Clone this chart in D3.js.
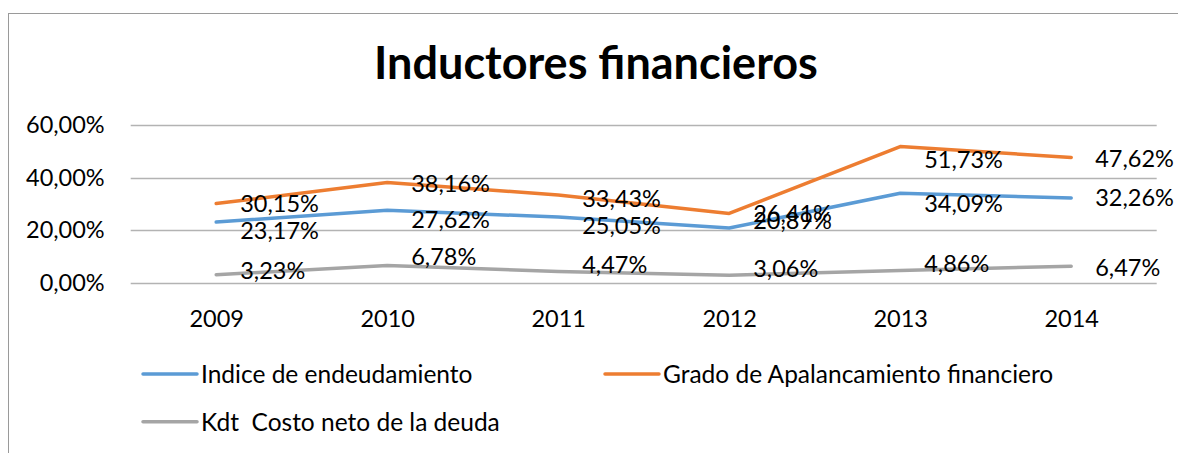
<!DOCTYPE html>
<html>
<head>
<meta charset="utf-8">
<script src="https://cdn.jsdelivr.net/npm/d3@7"></script>
<style>
  html, body { margin: 0; padding: 0; background: #fff; }
  svg { display: block; }
  text { font-family: Lato, "Open Sans", sans-serif; fill: #000; }
</style>
</head>
<body>
<svg id="chart" width="1178" height="453"></svg>
<script>
// ---- data ----
const years = ["2009", "2010", "2011", "2012", "2013", "2014"];
const indiceEndeudamiento = [0.2317, 0.2762, 0.2505, 0.2089, 0.3409, 0.3226];
const gradoApalancamiento = [0.3015, 0.3816, 0.3343, 0.2641, 0.5173, 0.4762];
const kdtCostoDeuda = [0.0323, 0.0678, 0.0447, 0.0306, 0.0486, 0.0647];
const yTicks = [0, 0.2, 0.4, 0.6];
const seriesNames = ["Indice de endeudamiento", "Grado de Apalancamiento financiero", "Kdt  Costo neto de la deuda"];
const seriesColors = ["#5b9bd5", "#ed7d31", "#a5a5a5"];
// vertical nudges of the data labels (px), as placed in the original
const labelNudgeIndice = [8, 9, 8, -8, 10, 0];
const labelNudgeGrado = [0, 1, 4, 0, 13, 1];
const labelNudgeKdt = [-4, -9, -7, -7, -7, 1];

const series = [
  { name: seriesNames[0], values: indiceEndeudamiento, color: seriesColors[0], nudge: labelNudgeIndice },
  { name: seriesNames[1], values: gradoApalancamiento, color: seriesColors[1], nudge: labelNudgeGrado },
  { name: seriesNames[2], values: kdtCostoDeuda, color: seriesColors[2], nudge: labelNudgeKdt }
];

const locale = d3.formatLocale({ decimal: ",", thousands: ".", grouping: [3], currency: ["", "€"] });
const pct = locale.format(".2%");

const svg = d3.select("#chart");

// chart border
svg.append("rect")
  .attr("x", 8.5).attr("y", 13.5)
  .attr("width", 1190).attr("height", 460)
  .attr("fill", "#fff").attr("stroke", "#9a9a9a").attr("stroke-width", 1);

const plotLeft = 130.7, plotRight = 1156.7, plotTop = 124.7, plotBottom = 283.3;
const numFont = "23.5px";

const x = d3.scalePoint().domain(years).range([plotLeft, plotRight]).padding(0.5);
const y = d3.scaleLinear().domain([0, 0.6]).range([plotBottom, plotTop]);

// title
svg.append("text")
  .attr("x", 596).attr("y", 79)
  .attr("text-anchor", "middle")
  .style("font-weight", "bold")
  .style("font-size", "45px")
  .text("Inductores financieros");

// gridlines
svg.append("g").selectAll("line").data(yTicks).join("line")
  .attr("x1", plotLeft).attr("x2", plotRight)
  .attr("y1", d => Math.round(y(d)) + 0.5).attr("y2", d => Math.round(y(d)) + 0.5)
  .attr("stroke", "#b3b3b3").attr("stroke-width", 1.3);

// y axis labels
const yAxis = d3.axisLeft(y).tickValues(yTicks).tickFormat(pct).tickSize(0).tickPadding(26);
const gy = svg.append("g").attr("transform", `translate(${plotLeft},0)`).call(yAxis);
gy.select(".domain").remove();
gy.selectAll("text").style("font-size", numFont).style("font-family", "Lato, sans-serif").attr("fill", "#000");

// x axis labels
const xAxis = d3.axisBottom(x).tickSize(0).tickPadding(27);
const gx = svg.append("g").attr("transform", `translate(0,${plotBottom})`).call(xAxis);
gx.select(".domain").remove();
gx.selectAll("text").style("font-size", numFont).style("font-family", "Lato, sans-serif").attr("fill", "#000");

// lines
const line = d3.line().x((d, i) => x(years[i])).y(d => y(d));
svg.append("g").selectAll("path").data(series).join("path")
  .attr("d", s => line(s.values))
  .attr("fill", "none")
  .attr("stroke", s => s.color)
  .attr("stroke-width", 3.5)
  .attr("stroke-linecap", "round")
  .attr("stroke-linejoin", "round");

// data labels
series.forEach(s => {
  svg.append("g").selectAll("text").data(s.values).join("text")
    .attr("x", (d, i) => x(years[i]) + 24)
    .attr("y", (d, i) => y(d) + s.nudge[i])
    .attr("dy", "0.36em")
    .attr("text-anchor", "start")
    .style("font-size", numFont)
    .text(d => pct(d));
});

// legend
const legendPos = [
  { lx: 143, ly: 374 },
  { lx: 605, ly: 374 },
  { lx: 143, ly: 421.7 }
];
const lg = svg.append("g").selectAll("g").data(series).join("g")
  .attr("transform", (s, i) => `translate(${legendPos[i].lx},${legendPos[i].ly})`);
lg.append("line")
  .attr("x1", 0).attr("x2", 54).attr("y1", 0).attr("y2", 0)
  .attr("stroke", s => s.color).attr("stroke-width", 3.5).attr("stroke-linecap", "round");
lg.append("text")
  .attr("x", 58).attr("y", 0).attr("dy", "0.36em")
  .style("font-size", "24.5px")
  .style("white-space", "pre")
  .text(s => s.name);
</script>
</body>
</html>
